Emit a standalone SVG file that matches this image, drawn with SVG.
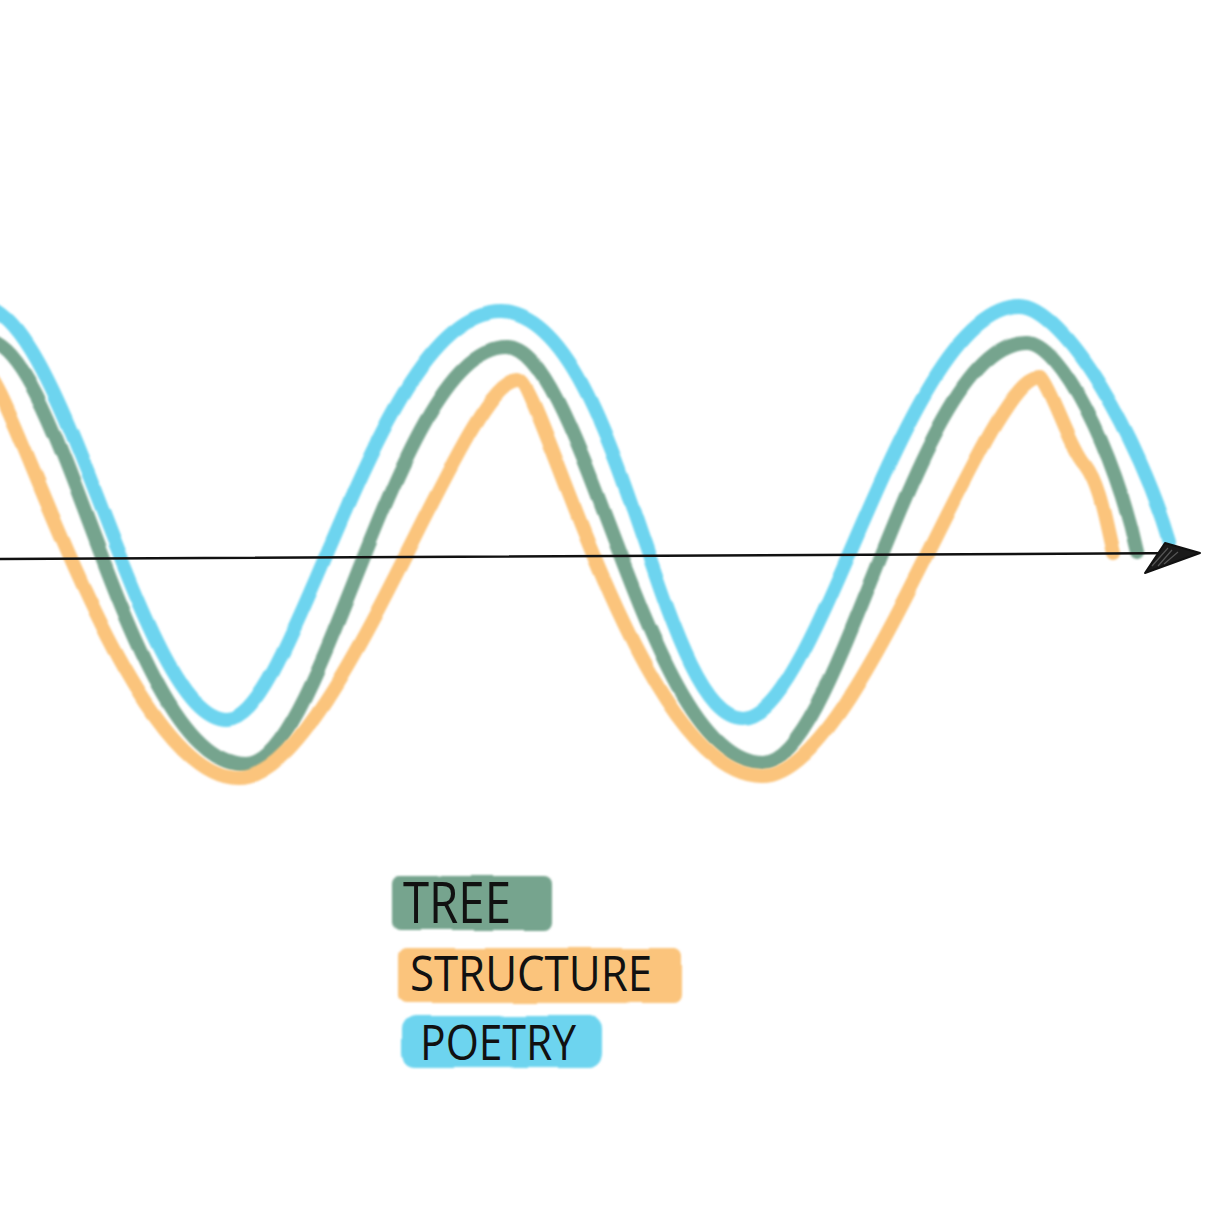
<svg xmlns="http://www.w3.org/2000/svg" width="1229" height="1229" viewBox="0 0 1229 1229">
  <style>
    .wave { fill: none; stroke-width: 14; stroke-linecap: round; stroke-linejoin: round; filter: url(#rough); }
    .blue { stroke: #6dd4ef; }
    .green { stroke: #76a48e; }
    .orange { stroke: #fbc47c; }
    .box { filter: url(#rough); }
    .label { font-family: "Open Sans", "Liberation Sans", sans-serif; font-weight: 400; fill: #111111; }
    .axis { fill: none; stroke: #111111; stroke-width: 2.5; stroke-linecap: round; }
  </style>
  <defs>
    <filter id="rough" x="-5%" y="-8%" width="110%" height="116%">
      <feTurbulence type="fractalNoise" baseFrequency="0.018" numOctaves="1" seed="5" result="n"/>
      <feDisplacementMap in="SourceGraphic" in2="n" scale="5" xChannelSelector="R" yChannelSelector="G" result="d"/>
      <feGaussianBlur in="d" stdDeviation="0.9"/>
    </filter>
  </defs>
  <rect width="1229" height="1229" fill="#ffffff"/>

  <g id="wave-poetry">
    <path class="wave blue" d="M-20,306 C66.5,306 140.5,720 227,720 C295.3,720 377.1,312 500,312 C621.5,312 658,718 743,718 C820.6,718 903.7,307 1020,307 C1065,307 1140,440 1170,542"/>
  </g>
  <g id="wave-tree">
    <path class="wave green" d="M-15,340 C63,340 128,765 245,765 C323.6,765 397,347 507,347 C583.5,347 647.25,763 762,763 C841.5,763 915.7,342 1027,342 C1060,342 1115,450 1137,553"/>
  </g>
  <g id="wave-structure">
    <path class="wave orange" d="M-15,372 C10.3,372 124.1,778 238,778 C336,778 462,380 518,380 C542.4,380 640,776 762,776 C859.3,776 984.4,377 1040,377 C1052,390 1070,450 1085,465 C1100,485 1105,520 1113,553"/>
  </g>

  <g id="axis">
    <path class="axis" d="M0,559 L1196,553"/>
    <path d="M1145,573 L1200,553 L1165,543 Z" fill="#1a1a1a" stroke="#111111" stroke-width="2" stroke-linejoin="round"/>
    <path d="M1152,566 L1168,548 M1158,566 L1172,550 M1164,564 L1178,552" stroke="#555555" stroke-width="1.2" fill="none"/>
  </g>

  <g id="legend-tree">
    <rect class="box" x="392" y="876" width="160" height="54" rx="8" fill="#76a48e"/>
    <text class="label" x="403" y="923" font-size="56" textLength="108" lengthAdjust="spacingAndGlyphs">TREE</text>
  </g>
  <g id="legend-structure">
    <rect class="box" x="398" y="948" width="284" height="55" rx="8" fill="#fbc47c"/>
    <text class="label" x="410" y="991" font-size="50" textLength="242" lengthAdjust="spacingAndGlyphs">STRUCTURE</text>
  </g>
  <g id="legend-poetry">
    <rect class="box" x="402" y="1016" width="200" height="51" rx="14" fill="#6dd4ef"/>
    <text class="label" x="420" y="1060" font-size="50" textLength="156" lengthAdjust="spacingAndGlyphs">POETRY</text>
  </g>
</svg>
